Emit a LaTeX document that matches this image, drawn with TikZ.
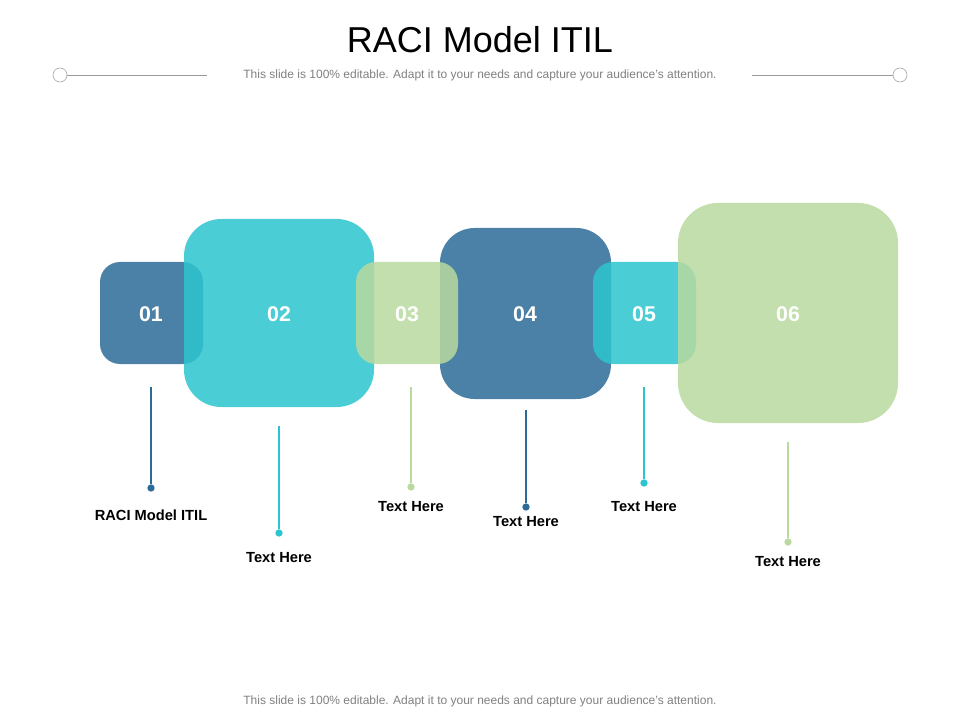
\documentclass[tikz,border=0pt]{standalone}
\usepackage{fontspec}
\setmainfont{Liberation Sans}
\begin{document}
\begin{tikzpicture}[x=0.75pt,y=-0.75pt,
  bx/.style={rounded corners=#1, fill opacity=0.85},
  num/.style={text=white,font=\bfseries\fontsize{16}{16}\selectfont},
  lbl/.style={font=\bfseries\fontsize{11}{13}\selectfont},
  sub/.style={text=black!50,font=\fontsize{9}{11}\selectfont}]
\definecolor{cb}{HTML}{2C6B96}
\definecolor{cc}{HTML}{2CC4CF}
\definecolor{cg}{HTML}{B9D99F}
\useasboundingbox (0,0) rectangle (960,720);
\node[font=\fontsize{27}{30}\selectfont] (title) at (480,40) {RACI Model ITIL};
\node[sub] (subt) at (480,75) {This slide is 100\% editable. Adapt it to your needs and capture your audience's attention.};
\node[draw=black!40,circle,minimum size=10.5pt,inner sep=0pt] (cl) at (60,75) {};
\node[draw=black!40,circle,minimum size=10.5pt,inner sep=0pt] (cr) at (900,75) {};
\coordinate (l2) at (207,75); \coordinate (r2) at (752,75);
\draw[black!40] (cl) -- (l2); \draw[black!40] (r2) -- (cr);
\node[sub] (foot) at (480,701) {This slide is 100\% editable. Adapt it to your needs and capture your audience's attention.};
% boxes
\fill[cb,bx=15] (100,262) rectangle (203,364);
\fill[cc,bx=28] (184,219) rectangle (374,407);
\fill[cb,bx=26] (440,228) rectangle (611,399);
\fill[cg,bx=15] (356,262) rectangle (458,364);
\fill[cc,bx=15] (593,262) rectangle (696,364);
\fill[cg,bx=30] (678,203) rectangle (898,423);
\node[num] (n1) at (151,314) {01};
\node[num] (n2) at (279,314) {02};
\node[num] (n3) at (407,314) {03};
\node[num] (n4) at (525,314) {04};
\node[num] (n5) at (644,314) {05};
\node[num] (n6) at (788,314) {06};
% connectors
\foreach \i/\x/\ya/\yb/\yl/\c/\t in {1/151/387/488/515/cb/RACI Model ITIL,2/279/426/533/558/cc/Text Here,3/411/387/487/507/cg/Text Here,4/526/410/507/522/cb/Text Here,5/644/387/483/507/cc/Text Here,6/788/442/542/562/cg/Text Here}{
  \coordinate (a\i) at (\x,\ya);
  \node[circle,fill=\c,inner sep=0pt,minimum size=5.5pt] (d\i) at (\x,\yb) {};
  \draw[\c,line width=0.9pt] (a\i) -- (d\i);
  \node[lbl] (t\i) at (\x,\yl) {\t};
}
\end{tikzpicture}
\end{document}
